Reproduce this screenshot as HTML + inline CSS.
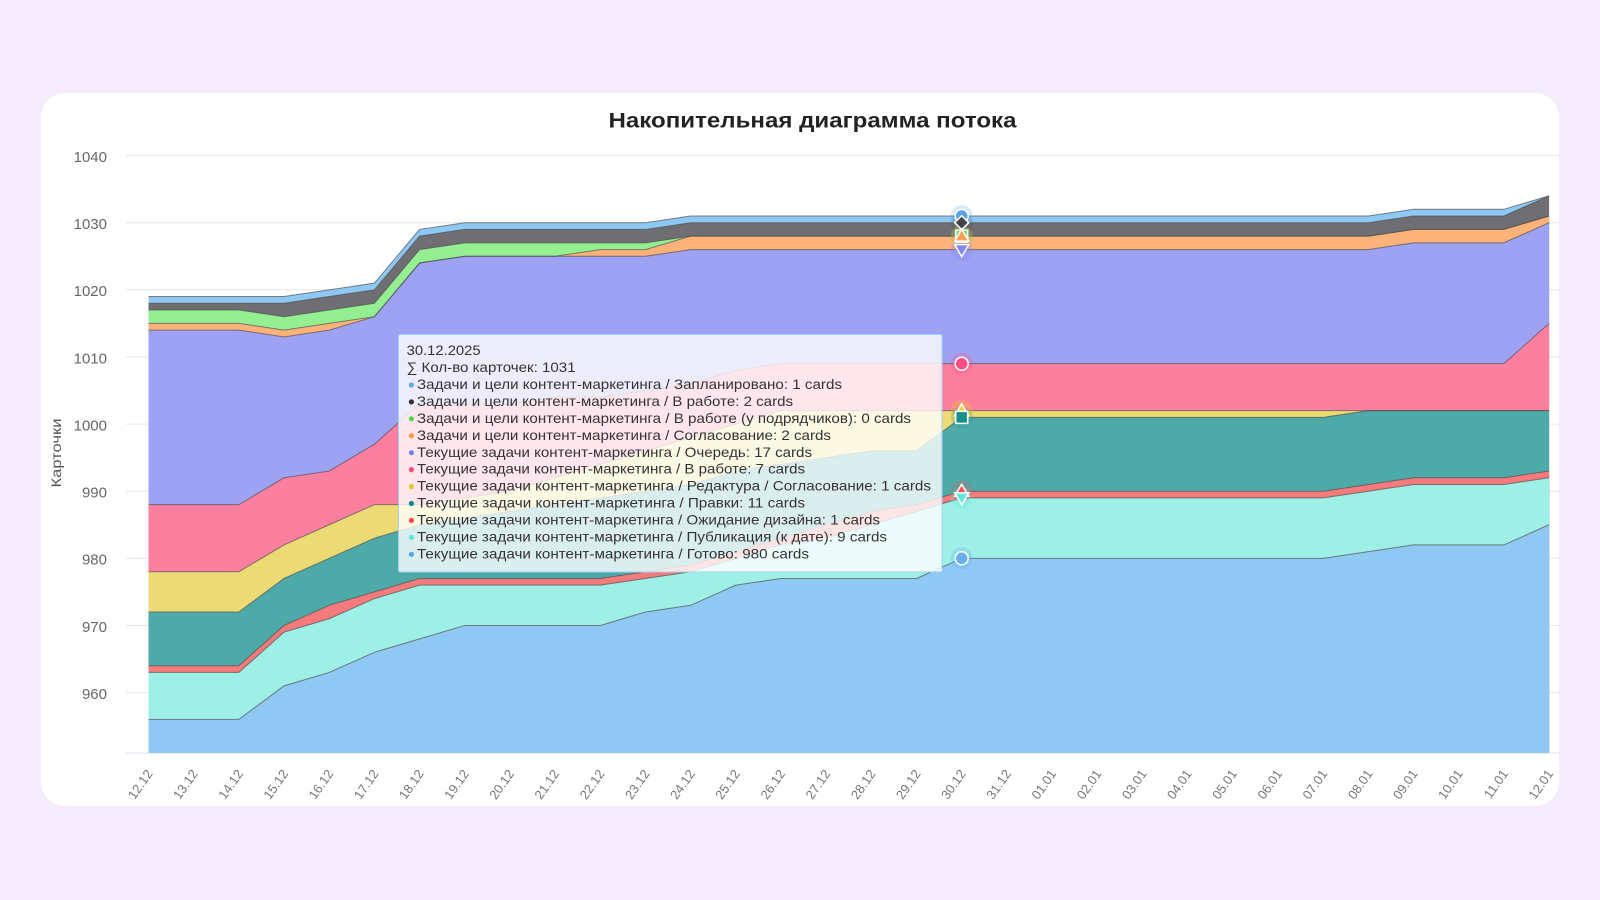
<!DOCTYPE html>
<html><head><meta charset="utf-8"><style>
html,body{margin:0;padding:0;background:#f4ecfd;overflow:hidden}
svg{display:block}
text{font-family:"Liberation Sans","Noto Sans CJK SC",sans-serif}
</style></head><body>
<svg width="1600" height="900" viewBox="0 0 1600 900" xmlns="http://www.w3.org/2000/svg">
<rect x="0" y="0" width="1600" height="900" fill="#f4ecfd"/>
<rect x="41" y="93" width="1518" height="713" rx="24" ry="24" fill="#ffffff"/>
<text x="812.5" y="127.3" text-anchor="middle" font-size="21" font-weight="bold" fill="#222" textLength="408" lengthAdjust="spacingAndGlyphs">Накопительная диаграмма потока</text>

<g stroke="#e6e6e6" stroke-width="1">
<line x1="126" y1="155.6" x2="1559" y2="155.6"/>
<line x1="126" y1="222.7" x2="1559" y2="222.7"/>
<line x1="126" y1="289.8" x2="1559" y2="289.8"/>
<line x1="126" y1="357" x2="1559" y2="357"/>
<line x1="126" y1="424.1" x2="1559" y2="424.1"/>
<line x1="126" y1="491.2" x2="1559" y2="491.2"/>
<line x1="126" y1="558.3" x2="1559" y2="558.3"/>
<line x1="126" y1="625.5" x2="1559" y2="625.5"/>
<line x1="126" y1="692.6" x2="1559" y2="692.6"/>
</g>
<line x1="126" y1="753" x2="1559" y2="753" stroke="#dfe3f2" stroke-width="1"/>

<g font-size="15" fill="#666" text-anchor="end">
<text x="107" y="161.9">1040</text>
<text x="107" y="229">1030</text>
<text x="107" y="296.1">1020</text>
<text x="107" y="363.3">1010</text>
<text x="107" y="430.4">1000</text>
<text x="107" y="497.5">990</text>
<text x="107" y="564.6">980</text>
<text x="107" y="631.8">970</text>
<text x="107" y="698.9">960</text>
</g>
<text transform="translate(61,453) rotate(-90)" text-anchor="middle" font-size="14" fill="#555" textLength="69" lengthAdjust="spacingAndGlyphs">Карточки</text>

<g transform="matrix(45.18 0 0 -6.712 148.5 7136.08)">
<polygon fill="#8ec8f4" points="0,1019 2,1019 3,1019 4,1020 5,1021 6,1029 7,1030 8,1030 9,1030 10,1030 11,1030 12,1031 13,1031 14,1031 15,1031 16,1031 17,1031 18,1031 26,1031 27,1031 28,1032 30,1032 31,1034 31,951.04 0,951.04"/>
<polygon fill="#6f6e73" points="0,1018 2,1018 3,1018 4,1019 5,1020 6,1028 7,1029 8,1029 9,1029 10,1029 11,1029 12,1030 13,1030 14,1030 15,1030 16,1030 17,1030 18,1030 26,1030 27,1030 28,1031 30,1031 31,1034 31,951.04 0,951.04"/>
<polygon fill="#94ef93" points="0,1017 2,1017 3,1016 4,1017 5,1018 6,1026 7,1027 8,1027 9,1027 10,1027 11,1027 12,1028 13,1028 14,1028 15,1028 16,1028 17,1028 18,1028 26,1028 27,1028 28,1029 30,1029 31,1031 31,951.04 0,951.04"/>
<polygon fill="#fdb27a" points="0,1015 2,1015 3,1014 4,1015 5,1016 6,1024 7,1025 8,1025 9,1025 10,1026 11,1026 12,1028 13,1028 14,1028 15,1028 16,1028 17,1028 18,1028 26,1028 27,1028 28,1029 30,1029 31,1031 31,951.04 0,951.04"/>
<polygon fill="#9ea2f2" points="0,1014 2,1014 3,1013 4,1014 5,1016 6,1024 7,1025 8,1025 9,1025 10,1025 11,1025 12,1026 13,1026 14,1026 15,1026 16,1026 17,1026 18,1026 26,1026 27,1026 28,1027 30,1027 31,1030 31,951.04 0,951.04"/>
<polygon fill="#fc7fa0" points="0,988 2,988 3,992 4,993 5,997 6,1003 7,1003 8,1003 9,1004 10,1004 11,1005 12,1006 13,1008 14,1009 15,1009 16,1009 17,1009 18,1009 26,1009 27,1009 28,1009 30,1009 31,1015 31,951.04 0,951.04"/>
<polygon fill="#ecdb74" points="0,978 2,978 3,982 4,985 5,988 6,988 7,989 8,990 9,992 10,994 11,996 12,998 13,1000 14,1002 15,1002 16,1002 17,1002 18,1002 26,1002 27,1002 28,1002 30,1002 31,1002 31,951.04 0,951.04"/>
<polygon fill="#4eaaa9" points="0,972 2,972 3,977 4,980 5,983 6,985 7,986 8,987 9,988 10,989 11,990 12,991 13,993 14,994 15,995 16,996 17,996 18,1001 26,1001 27,1002 28,1002 30,1002 31,1002 31,951.04 0,951.04"/>
<polygon fill="#f47a7c" points="0,964 2,964 3,970 4,973 5,975 6,977 7,977 8,977 9,977 10,977 11,978 12,979 13,981 14,983 15,985 16,987 17,988 18,990 26,990 27,991 28,992 30,992 31,993 31,951.04 0,951.04"/>
<polygon fill="#9ef0e6" points="0,963 2,963 3,969 4,971 5,974 6,976 7,976 8,976 9,976 10,976 11,977 12,978 13,980 14,982 15,983 16,985 17,987 18,989 26,989 27,990 28,991 30,991 31,992 31,951.04 0,951.04"/>
<polygon fill="#90c8f4" points="0,956 2,956 3,961 4,963 5,966 6,968 7,970 8,970 9,970 10,970 11,972 12,973 13,976 14,977 15,977 16,977 17,977 18,980 26,980 27,981 28,982 30,982 31,985 31,951.04 0,951.04"/>
<g fill="none" stroke="#505050" stroke-opacity="0.7" stroke-width="1" vector-effect="non-scaling-stroke">
<polyline vector-effect="non-scaling-stroke" points="0,1019 2,1019 3,1019 4,1020 5,1021 6,1029 7,1030 8,1030 9,1030 10,1030 11,1030 12,1031 13,1031 14,1031 15,1031 16,1031 17,1031 18,1031 26,1031 27,1031 28,1032 30,1032 31,1034"/>
<polyline vector-effect="non-scaling-stroke" points="0,1018 2,1018 3,1018 4,1019 5,1020 6,1028 7,1029 8,1029 9,1029 10,1029 11,1029 12,1030 13,1030 14,1030 15,1030 16,1030 17,1030 18,1030 26,1030 27,1030 28,1031 30,1031 31,1034"/>
<polyline vector-effect="non-scaling-stroke" points="0,1017 2,1017 3,1016 4,1017 5,1018 6,1026 7,1027 8,1027 9,1027 10,1027 11,1027 12,1028 13,1028 14,1028 15,1028 16,1028 17,1028 18,1028 26,1028 27,1028 28,1029 30,1029 31,1031"/>
<polyline vector-effect="non-scaling-stroke" points="0,1015 2,1015 3,1014 4,1015 5,1016 6,1024 7,1025 8,1025 9,1025 10,1026 11,1026 12,1028 13,1028 14,1028 15,1028 16,1028 17,1028 18,1028 26,1028 27,1028 28,1029 30,1029 31,1031"/>
<polyline vector-effect="non-scaling-stroke" points="0,1014 2,1014 3,1013 4,1014 5,1016 6,1024 7,1025 8,1025 9,1025 10,1025 11,1025 12,1026 13,1026 14,1026 15,1026 16,1026 17,1026 18,1026 26,1026 27,1026 28,1027 30,1027 31,1030"/>
<polyline vector-effect="non-scaling-stroke" points="0,988 2,988 3,992 4,993 5,997 6,1003 7,1003 8,1003 9,1004 10,1004 11,1005 12,1006 13,1008 14,1009 15,1009 16,1009 17,1009 18,1009 26,1009 27,1009 28,1009 30,1009 31,1015"/>
<polyline vector-effect="non-scaling-stroke" points="0,978 2,978 3,982 4,985 5,988 6,988 7,989 8,990 9,992 10,994 11,996 12,998 13,1000 14,1002 15,1002 16,1002 17,1002 18,1002 26,1002 27,1002 28,1002 30,1002 31,1002"/>
<polyline vector-effect="non-scaling-stroke" points="0,972 2,972 3,977 4,980 5,983 6,985 7,986 8,987 9,988 10,989 11,990 12,991 13,993 14,994 15,995 16,996 17,996 18,1001 26,1001 27,1002 28,1002 30,1002 31,1002"/>
<polyline vector-effect="non-scaling-stroke" points="0,964 2,964 3,970 4,973 5,975 6,977 7,977 8,977 9,977 10,977 11,978 12,979 13,981 14,983 15,985 16,987 17,988 18,990 26,990 27,991 28,992 30,992 31,993"/>
<polyline vector-effect="non-scaling-stroke" points="0,963 2,963 3,969 4,971 5,974 6,976 7,976 8,976 9,976 10,976 11,977 12,978 13,980 14,982 15,983 16,985 17,987 18,989 26,989 27,990 28,991 30,991 31,992"/>
<polyline vector-effect="non-scaling-stroke" points="0,956 2,956 3,961 4,963 5,966 6,968 7,970 8,970 9,970 10,970 11,972 12,973 13,976 14,977 15,977 16,977 17,977 18,980 26,980 27,981 28,982 30,982 31,985"/>
</g>
</g>

<g font-size="13" fill="#777" text-anchor="end">
<text transform="translate(149.5,771) rotate(-55)" dy="0.35em">12.12</text>
<text transform="translate(194.7,771) rotate(-55)" dy="0.35em">13.12</text>
<text transform="translate(239.9,771) rotate(-55)" dy="0.35em">14.12</text>
<text transform="translate(285,771) rotate(-55)" dy="0.35em">15.12</text>
<text transform="translate(330.2,771) rotate(-55)" dy="0.35em">16.12</text>
<text transform="translate(375.4,771) rotate(-55)" dy="0.35em">17.12</text>
<text transform="translate(420.6,771) rotate(-55)" dy="0.35em">18.12</text>
<text transform="translate(465.8,771) rotate(-55)" dy="0.35em">19.12</text>
<text transform="translate(510.9,771) rotate(-55)" dy="0.35em">20.12</text>
<text transform="translate(556.1,771) rotate(-55)" dy="0.35em">21.12</text>
<text transform="translate(601.3,771) rotate(-55)" dy="0.35em">22.12</text>
<text transform="translate(646.5,771) rotate(-55)" dy="0.35em">23.12</text>
<text transform="translate(691.7,771) rotate(-55)" dy="0.35em">24.12</text>
<text transform="translate(736.8,771) rotate(-55)" dy="0.35em">25.12</text>
<text transform="translate(782,771) rotate(-55)" dy="0.35em">26.12</text>
<text transform="translate(827.2,771) rotate(-55)" dy="0.35em">27.12</text>
<text transform="translate(872.4,771) rotate(-55)" dy="0.35em">28.12</text>
<text transform="translate(917.6,771) rotate(-55)" dy="0.35em">29.12</text>
<text transform="translate(962.7,771) rotate(-55)" dy="0.35em">30.12</text>
<text transform="translate(1007.9,771) rotate(-55)" dy="0.35em">31.12</text>
<text transform="translate(1053.1,771) rotate(-55)" dy="0.35em">01.01</text>
<text transform="translate(1098.3,771) rotate(-55)" dy="0.35em">02.01</text>
<text transform="translate(1143.5,771) rotate(-55)" dy="0.35em">03.01</text>
<text transform="translate(1188.6,771) rotate(-55)" dy="0.35em">04.01</text>
<text transform="translate(1233.8,771) rotate(-55)" dy="0.35em">05.01</text>
<text transform="translate(1279,771) rotate(-55)" dy="0.35em">06.01</text>
<text transform="translate(1324.2,771) rotate(-55)" dy="0.35em">07.01</text>
<text transform="translate(1369.4,771) rotate(-55)" dy="0.35em">08.01</text>
<text transform="translate(1414.5,771) rotate(-55)" dy="0.35em">09.01</text>
<text transform="translate(1459.7,771) rotate(-55)" dy="0.35em">10.01</text>
<text transform="translate(1504.9,771) rotate(-55)" dy="0.35em">11.01</text>
<text transform="translate(1550.1,771) rotate(-55)" dy="0.35em">12.01</text>
</g>

<!-- markers at 30.12 -->
<g>
<circle cx="961.7" cy="216" r="11" fill="#5aaeef" fill-opacity="0.25"/>
<circle cx="961.7" cy="222.7" r="11" fill="#333" fill-opacity="0.12"/>
<circle cx="961.7" cy="236.1" r="11" fill="#4ddb4d" fill-opacity="0.25"/>
<circle cx="961.7" cy="236.1" r="11" fill="#ff9a45" fill-opacity="0.2"/>
<circle cx="961.7" cy="249.6" r="11" fill="#7a7ff2" fill-opacity="0.25"/>
<circle cx="961.7" cy="363.7" r="11" fill="#ff4b7b" fill-opacity="0.25"/>
<circle cx="961.7" cy="410.7" r="11" fill="#e6c923" fill-opacity="0.3"/>
<circle cx="961.7" cy="417.4" r="11" fill="#0b8b86" fill-opacity="0.2"/>
<circle cx="961.7" cy="491.2" r="11" fill="#ff4545" fill-opacity="0.2"/>
<circle cx="961.7" cy="497.9" r="11" fill="#60e6dc" fill-opacity="0.25"/>
<circle cx="961.7" cy="558.3" r="11" fill="#58a8ef" fill-opacity="0.25"/>
</g>
<g stroke="#fff" stroke-width="1.5">
<circle cx="961.7" cy="216" r="6.5" fill="#5aa3e6"/>
<polygon points="961.7,215.7 968.7,222.7 961.7,229.7 954.7,222.7" fill="#444"/>
<rect x="955.7" y="230.1" width="12" height="12" fill="#6ee06e"/>
<polygon points="961.7,229.1 968.7,241.1 954.7,241.1" fill="#ff9e55"/>
<polygon points="961.7,256.6 968.7,244.6 954.7,244.6" fill="#7f86f0"/>
<circle cx="961.7" cy="363.7" r="6.5" fill="#ff4d80"/>
<polygon points="961.7,403.7 968.7,415.7 954.7,415.7" fill="#f5d742"/>
<rect x="955.7" y="411.4" width="12" height="12" fill="#15908a"/>
<polygon points="961.7,484.2 968.7,496.2 954.7,496.2" fill="#ff5050"/>
<polygon points="961.7,504.9 968.7,492.9 954.7,492.9" fill="#5fe8de"/>
<circle cx="961.7" cy="558.3" r="6.5" fill="#67aff0"/>
</g>

<!-- tooltip -->
<rect x="398.5" y="334.5" width="543.5" height="237.5" rx="2" fill="#ffffff" fill-opacity="0.8" stroke="#a3d0f5" stroke-width="1"/>
<g font-size="14" fill="#333">
<text x="406.6" y="355.2" textLength="74" lengthAdjust="spacingAndGlyphs">30.12.2025</text>
<text x="406.6" y="372.1" textLength="169" lengthAdjust="spacingAndGlyphs">∑ Кол-во карточек: 1031</text>
<text x="417" y="389.1" textLength="425" lengthAdjust="spacingAndGlyphs">Задачи и цели контент-маркетинга / Запланировано: 1 cards</text>
<text x="417" y="406" textLength="376" lengthAdjust="spacingAndGlyphs">Задачи и цели контент-маркетинга / В работе: 2 cards</text>
<text x="417" y="422.9" textLength="494" lengthAdjust="spacingAndGlyphs">Задачи и цели контент-маркетинга / В работе (у подрядчиков): 0 cards</text>
<text x="417" y="439.8" textLength="414" lengthAdjust="spacingAndGlyphs">Задачи и цели контент-маркетинга / Согласование: 2 cards</text>
<text x="417" y="456.8" textLength="395" lengthAdjust="spacingAndGlyphs">Текущие задачи контент-маркетинга / Очередь: 17 cards</text>
<text x="417" y="473.7" textLength="388" lengthAdjust="spacingAndGlyphs">Текущие задачи контент-маркетинга / В работе: 7 cards</text>
<text x="417" y="490.6" textLength="514" lengthAdjust="spacingAndGlyphs">Текущие задачи контент-маркетинга / Редактура / Согласование: 1 cards</text>
<text x="417" y="507.6" textLength="388" lengthAdjust="spacingAndGlyphs">Текущие задачи контент-маркетинга / Правки: 11 cards</text>
<text x="417" y="524.5" textLength="463" lengthAdjust="spacingAndGlyphs">Текущие задачи контент-маркетинга / Ожидание дизайна: 1 cards</text>
<text x="417" y="541.4" textLength="470" lengthAdjust="spacingAndGlyphs">Текущие задачи контент-маркетинга / Публикация (к дате): 9 cards</text>
<text x="417" y="558.4" textLength="392" lengthAdjust="spacingAndGlyphs">Текущие задачи контент-маркетинга / Готово: 980 cards</text>
</g>
<g>
<circle cx="411.4" cy="385" r="2.6" fill="#5aaeef"/>
<circle cx="411.4" cy="401.9" r="2.6" fill="#333"/>
<circle cx="411.4" cy="418.8" r="2.6" fill="#4ddb4d"/>
<circle cx="411.4" cy="435.7" r="2.6" fill="#ff9a45"/>
<circle cx="411.4" cy="452.7" r="2.6" fill="#7a7ff2"/>
<circle cx="411.4" cy="469.6" r="2.6" fill="#ff4b7b"/>
<circle cx="411.4" cy="486.5" r="2.6" fill="#e6c923"/>
<circle cx="411.4" cy="503.5" r="2.6" fill="#0b8b86"/>
<circle cx="411.4" cy="520.4" r="2.6" fill="#ff4545"/>
<circle cx="411.4" cy="537.3" r="2.6" fill="#60e6dc"/>
<circle cx="411.4" cy="554.3" r="2.6" fill="#58a8ef"/>
</g>
</svg>
</body></html>
